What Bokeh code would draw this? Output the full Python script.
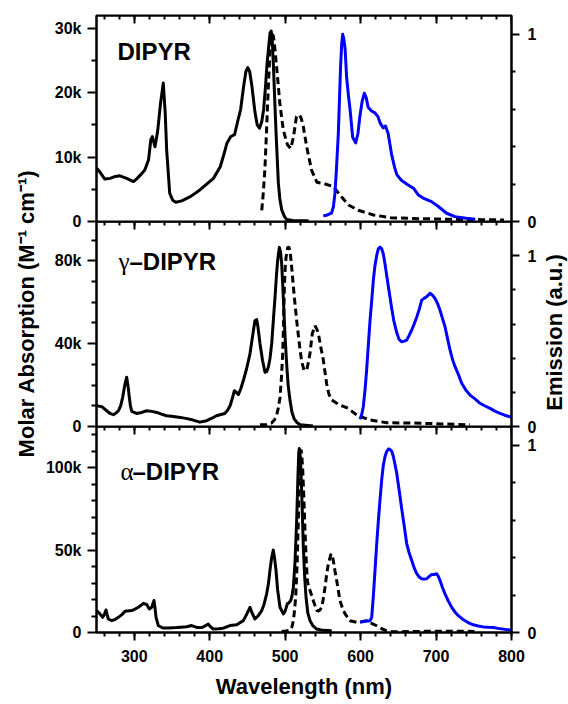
from math import pi
from bokeh.plotting import figure
from bokeh.layouts import column, row
from bokeh.models import (Range1d, LinearAxis, SingleIntervalTicker, FixedTicker,
                          CustomJSTickFormatter, Label)
from bokeh.embed import file_html
from bokeh.resources import INLINE

# ---------------- data ----------------
# Panel 1: DIPYR  (absorption in 10^3 M^-1 cm^-1, emission normalised)
dipyr_abs_nm = [250, 255, 261, 268, 275, 281, 290, 299, 304, 308, 314, 319, 322, 324, 327.5, 331, 335, 338.5,
                341, 343, 347, 351, 355, 363, 375, 387, 396, 405, 414, 419, 423, 428, 433, 437, 441, 445, 448,
                450.5, 453, 456, 460, 463, 466, 469, 471.5, 474, 476, 478.5, 480, 481.5, 483, 484.5, 486.5, 488,
                491, 493, 495.5, 499, 502, 510, 531]
dipyr_abs = [8.3, 7.6, 6.6, 6.7, 7.0, 7.1, 6.7, 6.2, 6.7, 7.2, 8.0, 9.6, 12.7, 13.2, 11.6, 14.0, 18.5, 21.5,
             17.0, 11.1, 4.4, 3.3, 3.0, 3.2, 3.9, 4.9, 5.8, 6.7, 8.5, 10.5, 12.2, 13.2, 13.5, 15.5, 17.4, 21.0, 23.3,
             23.9, 23.3, 21.0, 17.0, 15.0, 14.5, 15.5, 17.4, 21.0, 24.5, 27.5, 29.3, 29.6, 28.0, 24.1, 18.0, 13.7,
             6.0, 3.5, 1.8, 0.8, 0.3, 0.15, 0.1]
dipyr_dash_nm = [469, 471, 473.3, 475, 477, 479.5, 481, 483, 484.5, 486.5, 489.5, 493, 497.5, 503, 507.5, 511,
                 515, 518.5, 521, 524, 528.5, 535, 542, 553, 564, 573, 584, 597, 617, 640, 680, 720, 760, 790]
dipyr_dash = [0.06, 0.15, 0.29, 0.45, 0.65, 0.88, 0.97, 1.0, 0.99, 0.92, 0.79, 0.63, 0.49, 0.41, 0.39, 0.45,
              0.56, 0.57, 0.555, 0.51, 0.40, 0.275, 0.21, 0.20, 0.186, 0.14, 0.088, 0.06, 0.035, 0.02, 0.015,
              0.012, 0.01, 0.008]
dipyr_em_nm = [550.5, 556, 561.5, 564, 566, 568, 570.5, 572, 573.5, 575, 576.3, 578, 579.5, 581.5, 584, 586,
               589.5, 593.5, 596.5, 599, 602, 605, 607.5, 610, 614.5, 619, 623, 626, 630, 633, 636.5, 641, 645,
               648, 654, 663, 670, 676.5, 683, 694, 703, 714, 725, 740, 752]
dipyr_em = [0.03, 0.035, 0.045, 0.08, 0.15, 0.28, 0.47, 0.65, 0.83, 0.95, 1.0, 0.97, 0.92, 0.77, 0.67, 0.60,
            0.45, 0.42, 0.47, 0.56, 0.64, 0.685, 0.66, 0.61, 0.59, 0.58, 0.56, 0.525, 0.50, 0.51, 0.47, 0.36, 0.29,
            0.25, 0.22, 0.195, 0.178, 0.142, 0.125, 0.106, 0.08, 0.044, 0.026, 0.017, 0.012]

# Panel 2: gamma-DIPYR
gam_abs_nm = [250, 257, 263.5, 268, 272.3, 276, 279, 282, 284.7, 287.8, 290, 292, 293.5, 295, 296.7, 303, 310,
              316.5, 323, 330, 336, 343, 352, 361, 370, 378, 387, 396, 403, 409, 415, 420, 424, 427, 430, 432.7,
              435, 438, 441, 444.6, 449, 453.4, 457, 460, 462.3, 464, 466.7, 470, 473.3, 475.5, 477.7, 480, 482.2,
              484.5, 486.6, 488.5, 490.1, 492.3, 494, 495.4, 497, 498.5, 500, 502, 504, 506.5, 509, 512, 516,
              520, 537]
gam_abs = [10.0, 9.6, 7.6, 6.3, 5.7, 6.5, 7.6, 10.0, 14.1, 20.6, 23.8, 19.0, 14.1, 10.0, 7.3, 6.3, 6.8,
           7.6, 7.3, 6.8, 6.0, 5.2, 4.8, 4.4, 3.8, 3.1, 2.1, 2.8, 4.0, 5.2, 5.8, 6.3, 8.0, 10.0, 13.5, 17.3,
           16.6, 15.4, 18.0, 22.2, 28.0, 35.1, 44.0, 51.2, 51.6, 48.0, 40.0, 32.0, 26.2, 26.5, 28.6, 33.0, 40.0,
           52.0, 62.5, 73.0, 80.3, 86.5, 84.0, 78.7, 67.0, 54.5, 43.0, 30.3, 20.0, 12.5, 7.0, 3.6, 1.8,
           0.8, 0.3]
gam_dash_nm = [466.7, 475, 482, 486, 488.8, 491, 493.2, 495, 496.8, 498, 499, 500, 501.2, 503.4, 505, 506.5,
               508.5, 510.9, 513, 515.3, 519.7, 522, 525, 528.6, 531, 533, 536, 539.6, 542, 544, 547, 550.6,
               555, 558, 561.7, 567, 572.7, 583.7, 594.8, 612.5, 634.6, 670, 710, 745]
gam_dash = [0.01, 0.012, 0.02, 0.04, 0.067, 0.11, 0.17, 0.28, 0.43, 0.62, 0.82, 0.92, 0.99, 1.05, 1.05, 1.03,
            0.94, 0.82, 0.72, 0.62, 0.45, 0.38, 0.33, 0.33, 0.38, 0.43, 0.545, 0.59, 0.57, 0.545, 0.47, 0.39,
            0.25, 0.19, 0.155, 0.14, 0.126, 0.106, 0.067, 0.038, 0.022, 0.02, 0.015, 0.01]
gam_em_nm = [599.2, 601.5, 603.6, 606, 608, 610, 612.5, 615, 616.9, 619, 621.3, 623.5, 625.7, 628, 630.1,
             632.4, 636.8, 641.3, 644, 647.9, 651, 654.5, 658, 661.1, 664, 667.8, 671, 674.4, 678, 681, 684,
             687.6, 690, 692, 695, 698.6, 702, 705.3, 708, 711.9, 715, 718.5, 722, 725.2, 730, 734, 740, 745,
             752, 758.3, 765, 771.6, 778, 784.8, 791, 798, 800]
gam_em = [0.042, 0.07, 0.116, 0.22, 0.33, 0.46, 0.62, 0.75, 0.857, 0.94, 1.0, 1.04, 1.05, 1.04, 1.01,
          0.95, 0.82, 0.69, 0.62, 0.55, 0.51, 0.496, 0.50, 0.506, 0.53, 0.565, 0.60, 0.64, 0.69, 0.74, 0.75,
          0.76, 0.77, 0.78, 0.77, 0.75, 0.72, 0.68, 0.64, 0.584, 0.52, 0.448, 0.39, 0.35, 0.30, 0.253, 0.21, 0.184,
          0.16, 0.136, 0.12, 0.106, 0.09, 0.077, 0.066, 0.057, 0.055]

# Panel 3: alpha-DIPYR
alp_abs_nm = [250, 254.6, 258.2, 260.5, 262.6, 264, 265.7, 270.2, 275, 279, 284, 287.8, 296.7, 301, 305.5, 309,
              312.1, 316.5, 320, 323.2, 326.2, 327.5, 328.9, 332, 338.6, 345, 356.3, 362, 369.6, 376.2, 382.8,
              390, 398.2, 401, 404.8, 412, 418, 426.9, 435.8, 444.6, 449, 453.4, 456, 460, 464, 469, 472, 475.5,
              478, 479.9, 482, 484.3, 486, 487.9, 490, 493.2, 497.6, 500, 502.9, 505, 507.4, 509, 510.9, 513,
              515.3, 517, 518, 518.8, 519.8, 520.9, 522.5, 524.1, 526, 527.7, 530, 533, 537, 541.8, 550, 561.7]
alp_abs = [13.3, 11.3, 9.2, 11.0, 13.7, 11.0, 8.2, 7.2, 8.0, 9.2, 11.0, 12.9, 13.3, 14.2, 15.3, 16.5,
           17.7, 17.0, 14.3, 15.3, 19.4, 15.0, 9.2, 4.1, 2.7, 2.8, 3.0, 3.2, 3.5, 4.2, 3.1,
           3.0, 5.1, 3.5, 2.1, 2.3, 2.6, 4.2, 4.7, 7.2, 11.0, 15.3, 12.0, 8.2, 10.0, 13.3, 17.0, 23.5,
           30.0, 37.8, 45.0, 50.0, 45.0, 37.8, 26.0, 15.3, 11.3, 13.0, 17.4, 18.0, 19.4, 22.0, 27.5, 42.0,
           68.4, 95.0, 109.0, 111.6, 108.0, 99.0, 77.0, 52.0, 33.0, 21.4, 12.0, 7.2, 4.0, 2.1, 1.3, 1.0]
alp_dash_nm = [495.4, 501, 506.5, 509, 510.9, 512.5, 514, 516, 517.5, 518.5, 519.7, 521, 522, 523.3, 524.8,
               526.3, 528, 529.4, 531, 533, 537.4, 541.8, 545, 548.5, 551, 552.9, 555, 557.3, 560.8, 562.3,
               563.8, 566, 568.3, 572.7, 576, 579.4, 586, 594.8, 601, 608, 614, 621.3, 628, 634.6, 643.4, 680,
               720, 751]
alp_dash = [0.005, 0.008, 0.013, 0.03, 0.063, 0.12, 0.19, 0.38, 0.60, 0.78, 0.92, 0.977, 0.95, 0.87, 0.72,
            0.547, 0.38, 0.28, 0.245, 0.224, 0.17, 0.117, 0.115, 0.134, 0.19, 0.242, 0.31, 0.368, 0.42, 0.41,
            0.385, 0.33, 0.278, 0.17, 0.13, 0.10, 0.063, 0.054, 0.058, 0.063, 0.05, 0.036, 0.02, 0.009, 0.004,
            0.006, 0.007, 0.006]
alp_em_nm = [599.2, 606, 612.5, 614.7, 617, 619.1, 621.3, 623.6, 626, 628, 630, 632.4, 634.5, 636.8, 639,
             641.3, 643.4, 645.5, 647.9, 650, 652.3, 654.5, 656.7, 659, 661.1, 664, 667.8, 671, 674.4, 678, 681,
             684, 687.6, 691, 694.2, 697.5, 700.8, 703, 705.3, 708.5, 711.9, 716, 720.8, 725, 729.5, 734,
             738.4, 744, 749.4, 756, 762.7, 770, 776, 782, 789.2, 798, 800]
alp_em = [0.054, 0.06, 0.063, 0.08, 0.2, 0.33, 0.47, 0.60, 0.72, 0.816, 0.89, 0.94, 0.965, 0.98, 0.977,
          0.968, 0.94, 0.90, 0.85, 0.79, 0.726, 0.66, 0.60, 0.535, 0.475, 0.43, 0.385, 0.345, 0.314, 0.295, 0.287,
          0.285, 0.287, 0.30, 0.31, 0.31, 0.314, 0.30, 0.278, 0.24, 0.206, 0.17, 0.134, 0.11, 0.09, 0.075,
          0.063, 0.05, 0.041, 0.035, 0.03, 0.028, 0.027, 0.022, 0.018, 0.013, 0.012]

x_lo, x_hi = 250, 800
x_major, x_minor_n = 100, 5
# axis limits (absorption in thousands) and tick values of each panel, top to bottom
abs_max = [32, 99, 125]
em_max = [1.1, 1.2, 1.1]
abs_ticks = [[0, 10, 20, 30], [0, 40, 80], [0, 50, 100]]
abs_minor = [[5, 15, 25], [10, 20, 30, 50, 60, 70, 90], [10, 20, 30, 40, 60, 70, 80, 90, 110, 120]]
em_ticks = [0, 1]
em_minor = [0.2, 0.4, 0.6, 0.8]
panel_names = ["DIPYR", "–DIPYR", "–DIPYR"]
panel_greek = ["", "γ", "α"]
y_title = "Molar Absorption (M⁻¹ cm⁻¹)"
y2_title = "Emission (a.u.)"
x_title = "Wavelength (nm)"

FONT = "Liberation Sans"
LTW, LB, FW, RB, RTW = 40, 56, 415, 30, 27
PW = LB + FW + RB
TB, BB = 15, 70
FH = [206, 205, 206]
OV = 10                         # overlap of consecutive panel canvases (room for the "0" labels)
HT = TB + sum(FH) + BB


def style_axis(ax, tick_in, tick_out, minor_in, minor_out):
    ax.axis_line_width = 2
    ax.axis_line_color = "black"
    ax.major_tick_line_width = 2
    ax.minor_tick_line_width = 2
    ax.major_tick_in = tick_in
    ax.major_tick_out = tick_out
    ax.minor_tick_in = minor_in
    ax.minor_tick_out = minor_out
    ax.major_label_text_font = FONT
    ax.major_label_text_font_style = "bold"
    ax.major_label_text_font_size = "16px"
    ax.major_label_text_color = "black"
    ax.axis_label_text_font = FONT
    ax.axis_label_text_font_style = "bold"
    ax.axis_label_text_font_size = "22px"
    ax.axis_label_text_color = "black"


def make_panel(i):
    first, last = i == 0, i == len(FH) - 1
    top = TB if first else 0
    bottom = BB if last else OV
    p = figure(width=PW, height=top + FH[i] + bottom,
               x_range=Range1d(x_lo, x_hi), y_range=Range1d(0, abs_max[i]),
               output_backend="svg", toolbar_location=None,
               x_axis_location="below" if last else None,
               min_border_left=LB, min_border_right=RB, min_border_top=top, min_border_bottom=bottom,
               margin=(0 if first else -OV, 0, 0, 0))
    p.extra_y_ranges = {"em": Range1d(0, em_max[i])}
    for g in p.grid:
        g.visible = False
    p.outline_line_color = "black"
    p.outline_line_width = 2
    p.background_fill_alpha = 0
    p.border_fill_alpha = 0

    ya = p.yaxis[0]
    ya.ticker = FixedTicker(ticks=abs_ticks[i], minor_ticks=abs_minor[i])
    ya.formatter = CustomJSTickFormatter(code="return tick == 0 ? '0' : tick.toFixed(0) + 'k';")
    style_axis(ya, 0, 9, 0, 5)
    ya.major_label_standoff = 6

    ra = LinearAxis(y_range_name="em", ticker=FixedTicker(ticks=em_ticks, minor_ticks=em_minor))
    style_axis(ra, 0, 8, 0, 4)
    ra.major_label_standoff = 8
    p.add_layout(ra, "right")

    ta = LinearAxis(ticker=SingleIntervalTicker(interval=x_major, num_minor_ticks=x_minor_n),
                    formatter=CustomJSTickFormatter(code="return '';"),
                    fixed_location=abs_max[i])
    style_axis(ta, 8, 0, 4, 0)
    ta.major_label_standoff = 0
    p.add_layout(ta, "above")

    if last:
        xa = p.below[0]
        xa.ticker = SingleIntervalTicker(interval=x_major, num_minor_ticks=x_minor_n)
        style_axis(xa, 0, 8, 0, 4)
        xa.major_label_standoff = 9
        xa.axis_label = x_title
        xa.axis_label_standoff = 9
    return p


panels = [make_panel(i) for i in range(3)]

series = [
    (dipyr_abs_nm, dipyr_abs, dipyr_dash_nm, dipyr_dash, dipyr_em_nm, dipyr_em),
    (gam_abs_nm, gam_abs, gam_dash_nm, gam_dash, gam_em_nm, gam_em),
    (alp_abs_nm, alp_abs, alp_dash_nm, alp_dash, alp_em_nm, alp_em),
]
for p, (ax_, ay_, dx_, dy_, ex_, ey_) in zip(panels, series):
    p.line(dx_, dy_, y_range_name="em", line_color="black", line_width=3, line_dash="7 4")
    p.line(ax_, ay_, line_color="black", line_width=3, line_join="round")
    p.line(ex_, ey_, y_range_name="em", line_color="#0000FF", line_width=3, line_join="round")

# panel names (screen offsets from each frame's lower-left corner)
label_pos = [(21, 170), (22, 165), (24, 161)]
for p, name, greek, (lx, ly) in zip(panels, panel_names, panel_greek, label_pos):
    off = 0
    if greek:
        p.add_layout(Label(x=lx, y=ly, x_units="screen", y_units="screen", text=greek,
                           text_font="Liberation Serif", text_font_size="25px", text_color="black",
                           text_align="left", text_baseline="middle"))
        off = 11 if greek == "γ" else 12
    p.add_layout(Label(x=lx + off, y=ly, x_units="screen", y_units="screen", text=name,
                       text_font=FONT, text_font_style="bold", text_font_size="24px", text_color="black",
                       text_align="left", text_baseline="middle"))


def title_strip(width, text, cx, cy):
    f = figure(width=width, height=HT, x_range=Range1d(0, 1), y_range=Range1d(0, 1),
               output_backend="svg", toolbar_location=None, x_axis_location=None, y_axis_location=None,
               min_border=0, outline_line_color=None)
    for g in f.grid:
        g.visible = False
    f.background_fill_color = "white"
    f.border_fill_color = "white"
    f.add_layout(Label(x=cx, y=cy, x_units="screen", y_units="screen", angle=pi / 2, text=text,
                       text_font=FONT, text_font_style="bold", text_font_size="22px", text_color="black",
                       text_align="center", text_baseline="middle"))
    return f


left_strip = title_strip(LTW, y_title, 26, HT - 313)
right_strip = title_strip(RTW, y2_title, 13, HT - 332)

layout = row(left_strip, column(*panels, spacing=0), right_strip, spacing=0)
open("out.html", "w").write(file_html(layout, INLINE))
